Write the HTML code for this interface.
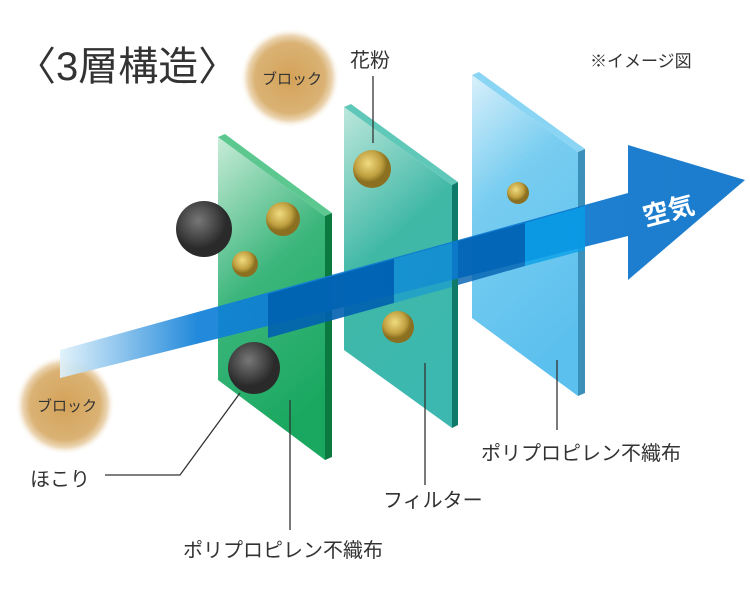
<!DOCTYPE html><html><head><meta charset="utf-8"><style>body{margin:0;background:#fff}svg{display:block}text{font-family:"Liberation Sans","Noto Sans CJK JP",sans-serif}</style></head><body>
<svg width="750" height="590" viewBox="0 0 750 590" xmlns="http://www.w3.org/2000/svg">
<defs>
<radialGradient id="blob"><stop offset="0" stop-color="#d4a258"/><stop offset="0.7" stop-color="#dab274"/><stop offset="0.85" stop-color="#ecd6b4"/><stop offset="1" stop-color="#fff" stop-opacity="0"/></radialGradient>
<radialGradient id="pol" cx="0.4" cy="0.35"><stop offset="0" stop-color="#f0dc80"/><stop offset="0.7" stop-color="#c0a040"/><stop offset="1" stop-color="#8a7020"/></radialGradient>
<radialGradient id="dust" cx="0.4" cy="0.35"><stop offset="0" stop-color="#777"/><stop offset="1" stop-color="#2a2a2a"/></radialGradient>
<linearGradient id="g1" x1="0" y1="0" x2="0.3" y2="1"><stop offset="0" stop-color="#c8ecd8"/><stop offset="0.5" stop-color="#3cb67c"/><stop offset="1" stop-color="#1aa860"/></linearGradient>
<linearGradient id="g2" x1="0" y1="0" x2="0.3" y2="1"><stop offset="0" stop-color="#bde8dc"/><stop offset="0.5" stop-color="#40b8a6"/><stop offset="1" stop-color="#3cb8b0"/></linearGradient>
<linearGradient id="g3" x1="0" y1="0" x2="0.3" y2="1"><stop offset="0" stop-color="#d8f0fb"/><stop offset="0.4" stop-color="#78cdf0"/><stop offset="1" stop-color="#5cc0ee"/></linearGradient>
<linearGradient id="band" x1="60" y1="0" x2="745" y2="0" gradientUnits="userSpaceOnUse"><stop offset="0" stop-color="#e0f2fb"/><stop offset="0.2" stop-color="#1080d8"/><stop offset="1" stop-color="#0870c8"/></linearGradient>
</defs>
<circle cx="290" cy="78" r="50" fill="url(#blob)"/>
<circle cx="65" cy="405" r="50" fill="url(#blob)"/>
<polygon points="218,137 325,216 325,460 218,380" fill="url(#g1)"/>
<polygon points="218,137 225,134 332,213 325,216" fill="#5cc890"/>
<polygon points="325,216 332,213 332,457 325,460" fill="#0a7a40"/>
<polygon points="344,107 452,185 452,428 344,350" fill="url(#g2)"/>
<polygon points="344,107 351,104 458,182 452,185" fill="#60c8b8"/>
<polygon points="452,185 458,182 458,425 452,428" fill="#107a6a"/>
<polygon points="472,75 578,152 578,396 472,318" fill="url(#g3)"/>
<polygon points="472,75 479,72 585,149 578,152" fill="#8ad4f4"/>
<polygon points="578,152 585,149 585,393 578,396" fill="#3a90b8"/>
<polygon points="60,350 628,193 628,145 745,180 628,280 628,236 60,378" fill="url(#band)" opacity="0.92"/>
<polygon points="268,294 394,259 394,303 268,338" fill="#0060b0" opacity="0.9"/>
<polygon points="394,259 452,243 452,287 394,303" fill="#1a9ad0" opacity="0.7"/>
<polygon points="525,223 585,206 585,250 525,266" fill="#0aa0e8" opacity="0.8"/>
<polygon points="458,241 525,223 525,266 458,285" fill="#0060b0" opacity="0.8"/>
<text x="642" y="222" fill="#fff" font-size="26" font-weight="bold" transform="rotate(-15 660 210)">空気</text>
<circle cx="283" cy="219" r="17" fill="url(#pol)"/>
<circle cx="245" cy="264" r="13" fill="url(#pol)"/>
<circle cx="372" cy="169" r="19" fill="url(#pol)"/>
<circle cx="398" cy="327" r="16" fill="url(#pol)"/>
<circle cx="518" cy="193" r="11" fill="url(#pol)"/>
<circle cx="204" cy="229" r="28" fill="url(#dust)"/>
<circle cx="254" cy="368" r="26" fill="url(#dust)"/>
<g stroke="#333" stroke-width="1.3" fill="none">
<line x1="373" y1="76" x2="373" y2="143"/>
<polyline points="105,475 180,475 240,393"/>
<line x1="290" y1="400" x2="290" y2="530"/>
<line x1="425" y1="363" x2="425" y2="485"/>
<line x1="557" y1="360" x2="557" y2="430"/>
</g>
<text x="16" y="80" font-size="40" fill="#333">〈3層構造〉</text>
<text x="590" y="67" font-size="17" fill="#333">※イメージ図</text>
<text x="350" y="67" font-size="20" fill="#333">花粉</text>
<text x="262" y="84" font-size="15" fill="#333">ブロック</text>
<text x="37" y="411" font-size="15" fill="#333">ブロック</text>
<text x="30" y="486" font-size="20" fill="#333">ほこり</text>
<text x="183" y="557" font-size="20" fill="#333">ポリプロピレン不織布</text>
<text x="383" y="507" font-size="20" fill="#333">フィルター</text>
<text x="481" y="460" font-size="20" fill="#333">ポリプロピレン不織布</text>
</svg></body></html>
